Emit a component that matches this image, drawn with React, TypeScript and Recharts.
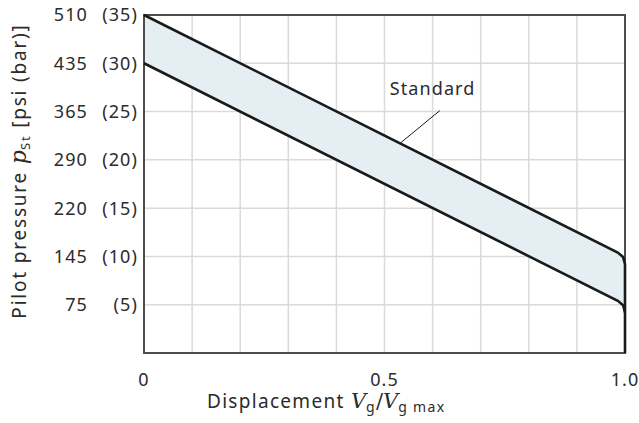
import React from "react";
import {
  ComposedChart,
  Area,
  Line,
  XAxis,
  YAxis,
  CartesianGrid,
  ReferenceArea,
  ReferenceLine,
  ReferenceDot,
} from "recharts";

// displacement ratio Vg/Vg max
const xTicks = [0, 0.1, 0.2, 0.3, 0.4, 0.5, 0.6, 0.7, 0.8, 0.9, 1.0];
const xLabels: Record<string, string> = { "0": "0", "0.5": "0.5", "1": "1.0" };

// pilot pressure ticks (bar) and the psi / bar text
const yTicks = [0, 5, 10, 15, 20, 25, 30, 35];
const psiLabels = ["", "75", "145", "220", "290", "365", "435", "510"];
const barLabels = ["", "(5)", "(10)", "(15)", "(20)", "(25)", "(30)", "(35)"];

// upper and lower curve of the standard band (bar)
const bandX = [0, 0.985, 0.996, 1.0];
const upperBar = [35, 10.4, 9.95, 9.2];
const lowerBar = [30, 5.4, 4.95, 4.2];
// upper curve drops to zero at full displacement
const dropBar = [0];

const bandData = bandX.map((x, i) => ({ x, band: [lowerBar[i], upperBar[i]] }));
const upperData = [
  ...bandX.map((x, i) => ({ x, p: upperBar[i] })),
  ...dropBar.map((p) => ({ x: 1.0, p })),
];
const lowerData = bandX.map((x, i) => ({ x, p: lowerBar[i] }));

const TEXT = "#2b2b2b";
const FONT = "'Noto Sans', sans-serif";
const SERIF = "'DejaVu Serif', serif";
const FS = 18;
const LS = 1.1;

function YTick(props: any) {
  const { y, payload } = props;
  const i = yTicks.indexOf(payload.value);
  if (i <= 0) return null;
  return (
    <g fontFamily={FONT} fontSize={FS} fill={TEXT} letterSpacing={LS}>
      <text x={88} y={y} dy="0.36em" textAnchor="end">
        {psiLabels[i]}
      </text>
      <text x={138} y={y} dy="0.36em" textAnchor="end">
        {barLabels[i]}
      </text>
    </g>
  );
}

function XTick(props: any) {
  const { x, y, payload } = props;
  const label = xLabels[String(payload.value)];
  if (!label) return null;
  return (
    <text
      x={x}
      y={y + 33}
      textAnchor="middle"
      fontFamily={FONT}
      fontSize={FS}
      letterSpacing={LS}
      fill={TEXT}
    >
      {label}
    </text>
  );
}

function XLabel(props: any) {
  const { viewBox } = props;
  return (
    <text
      x={207}
      y={viewBox.y + 55}
      textAnchor="start"
      fontFamily={FONT}
      fontSize={19}
      letterSpacing={1.3}
      fill={TEXT}
    >
      <tspan>Displacement </tspan>
      <tspan fontFamily={SERIF} fontStyle="italic" fontSize={21} letterSpacing={0}>
        V
      </tspan>
      <tspan fontSize={14} dy={4}>g</tspan>
      <tspan dy={-4} fontFamily={SERIF} fontSize={21} letterSpacing={0}>
        /
      </tspan>
      <tspan fontFamily={SERIF} fontStyle="italic" fontSize={21} letterSpacing={0}>
        V
      </tspan>
      <tspan fontSize={14} dy={4}>g max</tspan>
    </text>
  );
}

function YLabel() {
  const cx = 26;
  const cy = 171;
  return (
    <text
      x={cx}
      y={cy}
      transform={`rotate(-90, ${cx}, ${cy})`}
      textAnchor="middle"
      fontFamily={FONT}
      fontSize={19}
      letterSpacing={1.8}
      fill={TEXT}
    >
      <tspan>Pilot pressure </tspan>
      <tspan fontFamily={SERIF} fontStyle="italic" fontSize={22} letterSpacing={0}>
        p
      </tspan>
      <tspan fontSize={13} dy={4}>St</tspan>
      <tspan dy={-4}> [psi (bar)]</tspan>
    </text>
  );
}

export default function App() {
  return (
    <div style={{ position: "absolute", left: 0, top: 0, background: "#fff" }}>
      <ComposedChart
        width={639}
        height={423}
        margin={{ top: 15, right: 14, bottom: 0, left: 0 }}
      >
        <CartesianGrid stroke="#dadada" strokeWidth={1.5} />
        <XAxis
          dataKey="x"
          type="number"
          domain={[0, 1]}
          ticks={xTicks}
          tick={<XTick />}
          tickLine={false}
          tickSize={0}
          tickMargin={0}
          axisLine={false}
          height={70}
          interval={0}
          label={<XLabel />}
        />
        <YAxis
          type="number"
          domain={[0, 35]}
          ticks={yTicks}
          tick={<YTick />}
          tickLine={false}
          tickSize={0}
          tickMargin={0}
          axisLine={false}
          width={144}
          interval={0}
          label={<YLabel />}
        />
        <Area
          data={bandData}
          dataKey="band"
          type="linear"
          stroke="none"
          fill="#e5eef2"
          fillOpacity={1}
          isAnimationActive={false}
        />
        <ReferenceArea
          x1={0}
          x2={1}
          y1={0}
          y2={35}
          fill="none"
          stroke="#4d4d4d"
          strokeWidth={2}
        />
        <Line
          data={lowerData}
          dataKey="p"
          type="linear"
          stroke="#1a1a1a"
          strokeWidth={2.6}
          dot={false}
          isAnimationActive={false}
        />
        <Line
          data={upperData}
          dataKey="p"
          type="linear"
          stroke="#1a1a1a"
          strokeWidth={2.6}
          dot={false}
          isAnimationActive={false}
        />
        <ReferenceLine
          segment={[
            { x: 0.532, y: 21.7 },
            { x: 0.615, y: 25.1 },
          ]}
          stroke="#1a1a1a"
          strokeWidth={1}
        />
        <ReferenceDot
          x={0.6}
          y={27.4}
          r={0}
          fill="none"
          stroke="none"
          label={{
            value: "Standard",
            position: "center",
            fontFamily: FONT,
            fontSize: FS,
            letterSpacing: LS,
            fill: TEXT,
          }}
        />
      </ComposedChart>
    </div>
  );
}
